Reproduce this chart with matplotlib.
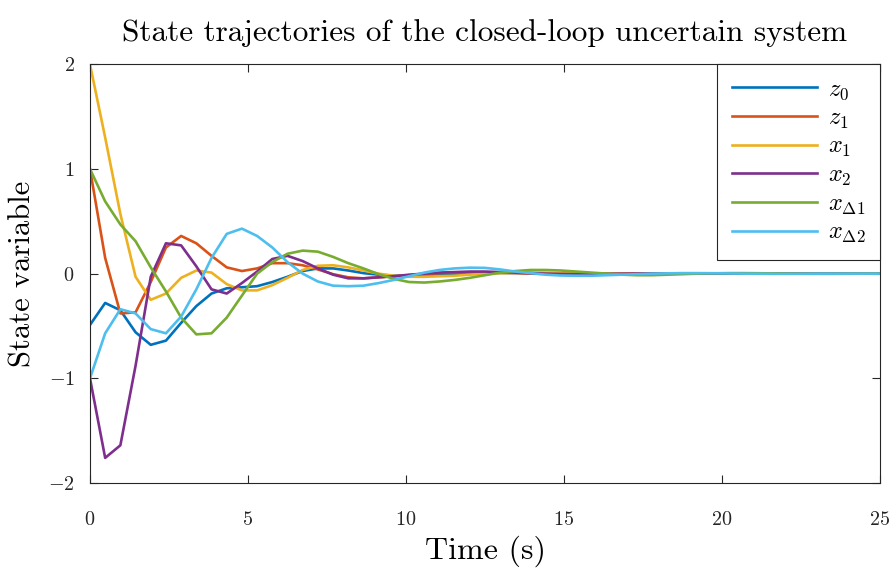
import numpy as np
import matplotlib
matplotlib.use("Agg")
import matplotlib.pyplot as plt

plt.rcParams["font.family"] = "cmr10"
plt.rcParams["mathtext.fontset"] = "cm"
plt.rcParams["axes.formatter.use_mathtext"] = True

# simulation time grid
t = np.linspace(0, 25, 53)

z0 = [-0.49, -0.28, -0.35, -0.56, -0.68, -0.64, -0.47, -0.31, -0.19, -0.14,
      -0.13, -0.12, -0.08, -0.03, 0.025, 0.05, 0.05, 0.03, 0.005, -0.01,
      -0.02, -0.02, -0.015, -0.01, -0.005, 0.0, 0.005, 0.007, 0.007, 0.005,
      0.003, 0.0, -0.002, -0.003, -0.003, -0.002, -0.001, 0.0, 0.001, 0.001,
      0.001, 0.0, 0.0, 0.0, 0.0, 0.0, 0.0, 0.0, 0.0, 0.0, 0.0, 0.0, 0.0]
z1 = [1.0, 0.15, -0.38, -0.37, -0.08, 0.25, 0.36, 0.29, 0.17, 0.06,
      0.025, 0.05, 0.1, 0.1, 0.08, 0.04, -0.005, -0.035, -0.045, -0.035,
      -0.025, -0.015, -0.005, 0.005, 0.01, 0.012, 0.01, 0.008, 0.005, 0.0,
      -0.002, -0.003, -0.003, -0.002, -0.001, 0.0, 0.001, 0.001, 0.0, 0.0,
      0.0, 0.0, 0.0, 0.0, 0.0, 0.0, 0.0, 0.0, 0.0, 0.0, 0.0, 0.0, 0.0]
x1 = [2.0, 1.3, 0.57, -0.03, -0.25, -0.19, -0.04, 0.03, 0.01, -0.1,
      -0.16, -0.16, -0.11, -0.04, 0.035, 0.075, 0.08, 0.06, 0.03, 0.0,
      -0.02, -0.03, -0.03, -0.025, -0.02, -0.01, 0.0, 0.005, 0.01, 0.01,
      0.008, 0.005, 0.002, 0.0, -0.002, -0.003, -0.002, -0.001, 0.0, 0.001,
      0.001, 0.0, 0.0, 0.0, 0.0, 0.0, 0.0, 0.0, 0.0, 0.0, 0.0, 0.0, 0.0]
x2 = [-1.0, -1.76, -1.64, -0.88, -0.03, 0.29, 0.27, 0.07, -0.15, -0.19,
      -0.09, 0.02, 0.14, 0.17, 0.12, 0.05, -0.01, -0.045, -0.045, -0.035,
      -0.025, -0.01, 0.0, 0.01, 0.015, 0.02, 0.02, 0.015, 0.01, 0.005,
      0.0, -0.003, -0.004, -0.004, -0.003, -0.002, 0.0, 0.001, 0.001, 0.001,
      0.0, 0.0, 0.0, 0.0, 0.0, 0.0, 0.0, 0.0, 0.0, 0.0, 0.0, 0.0, 0.0]
xd1 = [1.0, 0.69, 0.47, 0.31, 0.06, -0.17, -0.42, -0.58, -0.57, -0.42,
       -0.21, 0.0, 0.11, 0.19, 0.22, 0.21, 0.16, 0.1, 0.05, -0.005,
       -0.05, -0.08, -0.085, -0.075, -0.06, -0.04, -0.015, 0.01, 0.025, 0.035,
       0.035, 0.03, 0.02, 0.01, 0.0, -0.01, -0.015, -0.015, -0.01, -0.005,
       0.0, 0.003, 0.005, 0.005, 0.004, 0.002, 0.0, -0.001, -0.002, -0.002,
       -0.001, 0.0, 0.0]
xd2 = [-1.0, -0.57, -0.34, -0.38, -0.53, -0.57, -0.41, -0.15, 0.15, 0.38,
       0.43, 0.36, 0.25, 0.11, 0.0, -0.075, -0.115, -0.12, -0.115, -0.09,
       -0.06, -0.025, 0.01, 0.035, 0.05, 0.057, 0.055, 0.04, 0.02, 0.005,
       -0.01, -0.018, -0.02, -0.02, -0.015, -0.01, -0.005, 0.0, 0.003, 0.005,
       0.005, 0.004, 0.002, 0.0, -0.001, -0.002, -0.002, -0.001, 0.0, 0.0,
       0.0, 0.0, 0.0]

series = [z0, z1, x1, x2, xd1, xd2]
labels = [r"$z_0$", r"$z_1$", r"$x_1$", r"$x_2$", r"$x_{\Delta 1}$", r"$x_{\Delta 2}$"]
colors = ["#0072BD", "#D95319", "#EDB120", "#7E2F8E", "#77AC30", "#4DBEEE"]

fig = plt.figure(figsize=(8.9, 5.72), dpi=100)
ax = fig.add_axes([0.1011, 0.1556, 0.8877, 0.732])

for y, lab, c in zip(series, labels, colors):
    ax.plot(t, y, color=c, lw=1.9, label=lab)

ax.set_xlim(0, 25)
ax.set_ylim(-2, 2)
ax.set_xticks([0, 5, 10, 15, 20, 25])
ax.set_yticks([-2, -1, 0, 1, 2])
ax.tick_params(direction="in", length=5.5, width=0.8, top=True, right=True,
               labelsize=14.5, colors="#262626")
ax.tick_params(axis="x", pad=20)
ax.tick_params(axis="y", pad=11)
for s in ax.spines.values():
    s.set_linewidth(0.8)
    s.set_color("#262626")

ax.set_title("State trajectories of the closed-loop uncertain system",
             fontsize=22.5, pad=17)
ax.set_xlabel("Time (s)", fontsize=23, labelpad=5)
ax.set_ylabel("State variable", fontsize=22, labelpad=8)

leg = ax.legend(loc="upper right", borderaxespad=0, fontsize=17.5,
                fancybox=False, framealpha=1, edgecolor="#262626",
                handlelength=3.5, handletextpad=0.45, labelspacing=0.22,
                borderpad=0.6)
leg.get_frame().set_linewidth(0.8)

fig.savefig("out.png", dpi=100)
